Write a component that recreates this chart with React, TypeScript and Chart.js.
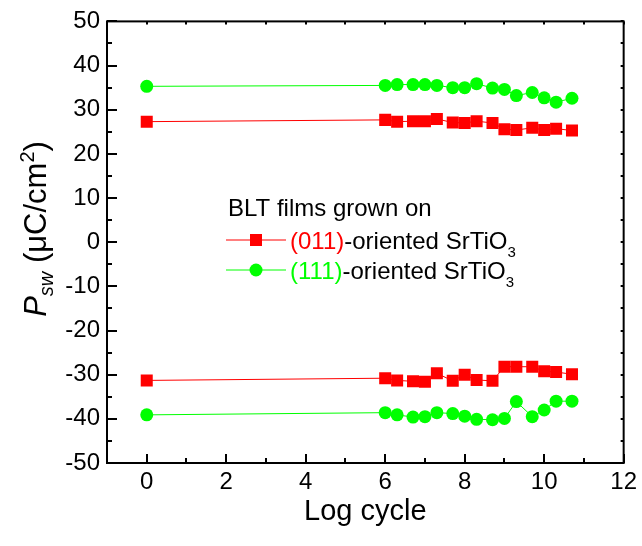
import React, { useEffect, useRef } from "react";
import { Chart, registerables } from "chart.js";

Chart.register(...registerables);

// ---- data ----
const logCycle = [0, 6, 6.3, 6.7, 7, 7.3, 7.7, 8, 8.3, 8.7, 9, 9.3, 9.7, 10, 10.3, 10.7];
const p011Pos = [27.3, 27.7, 27.3, 27.4, 27.4, 27.9, 27.1, 27.0, 27.4, 27.0, 25.6, 25.4, 25.9, 25.4, 25.7, 25.3];
const p011Neg = [-31.3, -30.8, -31.3, -31.5, -31.6, -29.7, -31.4, -30.0, -31.2, -31.4, -28.2, -28.2, -28.2, -29.2, -29.4, -29.9];
const p111Pos = [35.3, 35.5, 35.7, 35.7, 35.7, 35.5, 35.0, 35.0, 35.9, 34.9, 34.6, 33.2, 33.9, 32.7, 31.7, 32.6];
const p111Neg = [-39.1, -38.6, -39.1, -39.6, -39.5, -38.6, -38.8, -39.4, -40.1, -40.2, -39.9, -36.1, -39.5, -38.0, -36.0, -36.0];
const xTickValues = [0, 2, 4, 6, 8, 10, 12];
const yTickValues = [-50, -40, -30, -20, -10, 0, 10, 20, 30, 40, 50];
const legendTitle = "BLT films grown on";
const legendOrient = ["(011)", "(111)"];
const legendRest = "-oriented SrTiO";
const legendSub = "3";
const xTitle = "Log cycle";

const RED = "#ff0000";
const GREEN = "#00ff00";
const FONT = "'Liberation Sans', Arial, Helvetica, sans-serif";

type Run = { text: string; font: string; color?: string; dy?: number };

function runsWidth(ctx: CanvasRenderingContext2D, runs: Run[]) {
  let w = 0;
  for (const r of runs) {
    ctx.font = r.font;
    w += ctx.measureText(r.text).width;
  }
  return w;
}

function drawRuns(ctx: CanvasRenderingContext2D, runs: Run[], x: number, y: number) {
  for (const r of runs) {
    ctx.font = r.font;
    ctx.fillStyle = r.color || "#000";
    ctx.fillText(r.text, x, y + (r.dy || 0));
    x += ctx.measureText(r.text).width;
  }
  return x;
}

const decorPlugin = {
  id: "decor",
  beforeDraw(chart: any) {
    const ctx = chart.ctx;
    ctx.save();
    ctx.fillStyle = "#fff";
    ctx.fillRect(0, 0, chart.width, chart.height);
    ctx.restore();
  },
  afterDraw(chart: any) {
    const ctx: CanvasRenderingContext2D = chart.ctx;
    const { left, right, top, bottom } = chart.chartArea;
    const xs = chart.scales.x;
    const ys = chart.scales.y;
    ctx.save();
    ctx.strokeStyle = "#000";
    ctx.lineWidth = 2;
    ctx.beginPath();
    for (let v = -1; v <= 12; v++) {
      const px = Math.round(xs.getPixelForValue(v));
      const major = v % 2 === 0;
      ctx.moveTo(px, bottom);
      ctx.lineTo(px, bottom - (major ? 9 : 5));
      ctx.moveTo(px, top);
      ctx.lineTo(px, top + 3);
    }
    for (let v = -50; v <= 50; v += 5) {
      const py = Math.round(ys.getPixelForValue(v));
      const major = v % 10 === 0;
      ctx.moveTo(left, py);
      ctx.lineTo(left + (major ? 10 : 5), py);
      ctx.moveTo(right, py);
      ctx.lineTo(right - 3, py);
    }
    ctx.stroke();
    ctx.strokeRect(left, top, right - left, bottom - top);

    // x title
    ctx.fillStyle = "#000";
    ctx.textBaseline = "alphabetic";
    ctx.textAlign = "left";
    ctx.font = `29px ${FONT}`;
    const xw = ctx.measureText(xTitle).width;
    ctx.fillText(xTitle, (left + right) / 2 - xw / 2, 520);

    // y title (rotated)
    const yRuns: Run[] = [
      { text: "P", font: `italic 31px ${FONT}` },
      { text: "sw", font: `italic 20px ${FONT}`, dy: 7 },
      { text: " (\u03BCC/cm", font: `31px ${FONT}` },
      { text: "2", font: `20px ${FONT}`, dy: -12 },
      { text: ")", font: `31px ${FONT}` },
    ];
    const yw = runsWidth(ctx, yRuns);
    ctx.save();
    ctx.translate(46, 229);
    ctx.rotate(-Math.PI / 2);
    drawRuns(ctx, yRuns, -yw / 2, 0);
    ctx.restore();

    // legend
    ctx.font = `24px ${FONT}`;
    ctx.fillStyle = "#000";
    ctx.fillText(legendTitle, 228, 216);
    const rows = [
      { y: 240, color: RED, marker: "rect" },
      { y: 270, color: GREEN, marker: "circle" },
    ];
    rows.forEach((row, i) => {
      ctx.strokeStyle = row.color;
      ctx.lineWidth = 1;
      ctx.beginPath();
      ctx.moveTo(226, row.y);
      ctx.lineTo(286, row.y);
      ctx.stroke();
      ctx.fillStyle = row.color;
      if (row.marker === "rect") {
        ctx.fillRect(256 - 6, row.y - 6, 12, 12);
      } else {
        ctx.beginPath();
        ctx.arc(256, row.y, 6.5, 0, Math.PI * 2);
        ctx.fill();
      }
      drawRuns(
        ctx,
        [
          { text: legendOrient[i], font: `24px ${FONT}`, color: row.color },
          { text: legendRest, font: `24px ${FONT}` },
          { text: legendSub, font: `15px ${FONT}`, dy: 8 },
        ],
        290,
        row.y + 8.5
      );
    });
    ctx.restore();
  },
};

function makeSeries(ys: number[]) {
  return logCycle.map((x, i) => ({ x, y: ys[i] }));
}

export default function App() {
  const ref = useRef<HTMLCanvasElement | null>(null);
  useEffect(() => {
    if (!ref.current) return;
    const common = { borderWidth: 1, pointBorderWidth: 0, showLine: true, fill: false, tension: 0 };
    const chart = new Chart(ref.current, {
      type: "line",
      data: {
        datasets: [
          { ...common, label: "(011)+", data: makeSeries(p011Pos), borderColor: RED, backgroundColor: RED, pointBackgroundColor: RED, pointStyle: "rect", pointRadius: 8.5, pointHoverRadius: 8.5 },
          { ...common, label: "(011)-", data: makeSeries(p011Neg), borderColor: RED, backgroundColor: RED, pointBackgroundColor: RED, pointStyle: "rect", pointRadius: 8.5, pointHoverRadius: 8.5 },
          { ...common, label: "(111)+", data: makeSeries(p111Pos), borderColor: GREEN, backgroundColor: GREEN, pointBackgroundColor: GREEN, pointStyle: "circle", pointRadius: 6.5, pointHoverRadius: 6.5 },
          { ...common, label: "(111)-", data: makeSeries(p111Neg), borderColor: GREEN, backgroundColor: GREEN, pointBackgroundColor: GREEN, pointStyle: "circle", pointRadius: 6.5, pointHoverRadius: 6.5 },
        ],
      } as any,
      options: {
        animation: false,
        responsive: false,
        devicePixelRatio: 1,
        layout: { padding: { left: 0, top: 14, right: 12, bottom: 0 }, autoPadding: false } as any,
        plugins: { legend: { display: false }, tooltip: { enabled: false }, title: { display: false } },
        scales: {
          x: {
            type: "linear",
            min: -1,
            max: 12,
            afterBuildTicks: (s: any) => {
              s.ticks = xTickValues.map((v) => ({ value: v }));
            },
            afterFit: (s: any) => {
              s.height = 83;
            },
            grid: { display: false, drawTicks: false },
            border: { display: false },
            ticks: { color: "#000", font: { family: FONT, size: 24 }, padding: 5, maxRotation: 0, autoSkip: false },
          },
          y: {
            type: "linear",
            min: -50,
            max: 50,
            afterBuildTicks: (s: any) => {
              s.ticks = yTickValues.map((v) => ({ value: v }));
            },
            afterFit: (s: any) => {
              s.width = 107;
            },
            grid: { display: false, drawTicks: false },
            border: { display: false },
            ticks: { color: "#000", font: { family: FONT, size: 24 }, padding: 7, autoSkip: false },
          },
        },
      } as any,
      plugins: [decorPlugin],
    });
    return () => chart.destroy();
  }, []);
  return (
    <div style={{ position: "fixed", left: 0, top: 0, width: 642, height: 546, background: "#fff" }}>
      <canvas ref={ref} width={642} height={546} style={{ display: "block", width: 642, height: 546 }} />
    </div>
  );
}
